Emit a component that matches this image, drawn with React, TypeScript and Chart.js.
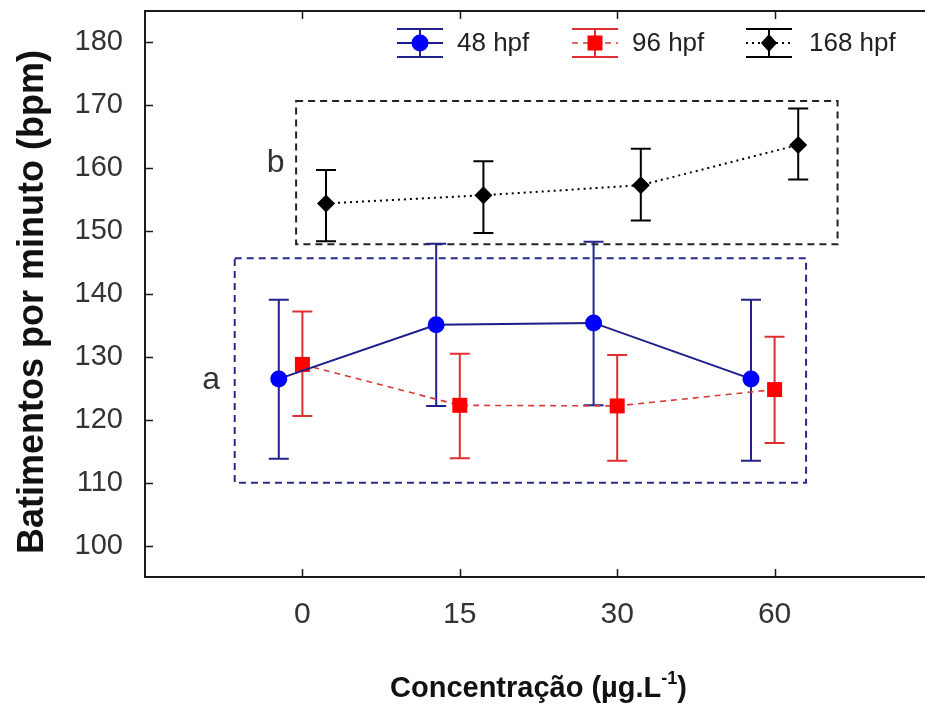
import React, { useEffect, useRef } from 'react';
import { Chart, registerables } from 'chart.js';

Chart.register(...registerables);

// ---- data ----
const categories = ['0', '15', '30', '60'];
const yTickValues = [100, 110, 120, 130, 140, 150, 160, 170, 180];
const seriesNames = ['48 hpf', '96 hpf', '168 hpf'];

const mean48 = [126.5, 135.1, 135.4, 126.5];
const low48 = [113.8, 122.2, 122.3, 113.5];
const high48 = [139.1, 148.0, 148.3, 139.1];

const mean96 = [128.8, 122.3, 122.2, 124.8];
const low96 = [120.6, 113.9, 113.5, 116.3];
const high96 = [137.2, 130.5, 130.3, 133.2];

const mean168 = [154.4, 155.7, 157.3, 163.7];
const low168 = [148.4, 149.7, 151.7, 158.2];
const high168 = [159.7, 161.1, 163.1, 169.5];

const groupOffsets = [-0.15, 0, 0.15];

// annotation groups (data units)
const groupLabels = ['a', 'b'];
const groupBoxX = [[-0.43, 3.2], [-0.04, 3.4]];
const groupBoxY = [[110, 145.7], [147.9, 170.7]];
const groupLabelX = [-0.58, -0.17];
const groupLabelY = [126.3, 160.8];

const FONT = '"Liberation Sans", Arial, sans-serif';

const styles = [
  { marker: '#0000ff', line: '#1c1c8a', bar: '#22228c', dash: [] as number[], lw: 2, shape: 'circle', r: 8.5 },
  { marker: '#ff0000', line: '#d83a3a', bar: '#dd3030', dash: [6, 5], lw: 1.6, shape: 'rect', r: 10.6 },
  { marker: '#000000', line: '#000000', bar: '#000000', dash: [2, 4], lw: 2, shape: 'rectRot', r: 9 },
];

const means = [mean48, mean96, mean168];
const lows = [low48, low96, low168];
const highs = [high48, high96, high168];

function drawMarker(ctx: CanvasRenderingContext2D, shape: string, x: number, y: number, r: number, color: string) {
  ctx.save();
  ctx.fillStyle = color;
  ctx.beginPath();
  if (shape === 'circle') {
    ctx.arc(x, y, r, 0, Math.PI * 2);
  } else if (shape === 'rect') {
    const s = r * Math.SQRT1_2;
    ctx.rect(x - s, y - s, 2 * s, 2 * s);
  } else {
    ctx.moveTo(x - r * 0.9, y);
    ctx.lineTo(x, y - r);
    ctx.lineTo(x + r * 0.9, y);
    ctx.lineTo(x, y + r);
    ctx.closePath();
  }
  ctx.fill();
  ctx.restore();
}

const decorPlugin = {
  id: 'decor',
  beforeDatasetsDraw(chart: any) {
    const ctx: CanvasRenderingContext2D = chart.ctx;
    const xs = chart.scales.x;
    const ys = chart.scales.y;
    const boxColors = ['#2a2a8a', '#222222'];
    ctx.save();
    ctx.lineWidth = 2;
    ctx.setLineDash([7, 5]);
    groupBoxX.forEach((bx, i) => {
      const x0 = xs.getPixelForValue(bx[0]);
      const x1 = xs.getPixelForValue(bx[1]);
      const y0 = ys.getPixelForValue(groupBoxY[i][1]);
      const y1 = ys.getPixelForValue(groupBoxY[i][0]);
      ctx.strokeStyle = boxColors[i];
      ctx.strokeRect(x0, y0, x1 - x0, y1 - y0);
    });
    ctx.restore();
    ctx.save();
    ctx.setLineDash([]);
    ctx.lineWidth = 2;
    means.forEach((m, s) => {
      ctx.strokeStyle = styles[s].bar;
      m.forEach((_, i) => {
        const x = xs.getPixelForValue(i + groupOffsets[s]);
        const yl = ys.getPixelForValue(lows[s][i]);
        const yh = ys.getPixelForValue(highs[s][i]);
        ctx.beginPath();
        ctx.moveTo(x, yl);
        ctx.lineTo(x, yh);
        ctx.moveTo(x - 10, yl);
        ctx.lineTo(x + 10, yl);
        ctx.moveTo(x - 10, yh);
        ctx.lineTo(x + 10, yh);
        ctx.stroke();
      });
    });
    ctx.restore();
  },
  afterDraw(chart: any) {
    const ctx: CanvasRenderingContext2D = chart.ctx;
    const xs = chart.scales.x;
    const ys = chart.scales.y;
    const a = chart.chartArea;
    ctx.save();
    ctx.strokeStyle = '#1a1a1a';
    ctx.lineWidth = 2;
    ctx.setLineDash([]);
    ctx.beginPath();
    ctx.moveTo(a.right + 5, a.top);
    ctx.lineTo(a.left, a.top);
    ctx.lineTo(a.left, a.bottom);
    ctx.lineTo(a.right + 5, a.bottom);
    ctx.stroke();
    ctx.lineWidth = 1.5;
    ctx.beginPath();
    yTickValues.forEach((v) => {
      const y = Math.round(ys.getPixelForValue(v)) + 0.5;
      ctx.moveTo(a.left, y);
      ctx.lineTo(a.left + 8, y);
    });
    categories.forEach((_, i) => {
      const x = Math.round(xs.getPixelForValue(i)) + 0.5;
      ctx.moveTo(x, a.bottom);
      ctx.lineTo(x, a.bottom - 8);
      ctx.moveTo(x, a.top);
      ctx.lineTo(x, a.top + 8);
    });
    ctx.stroke();

    ctx.fillStyle = '#333';
    ctx.font = `32px ${FONT}`;
    ctx.textAlign = 'center';
    ctx.textBaseline = 'middle';
    groupLabels.forEach((l, i) => {
      ctx.fillText(l, xs.getPixelForValue(groupLabelX[i]), ys.getPixelForValue(groupLabelY[i]));
    });

    const legendX = [420, 595, 769];
    const textX = [457, 632, 809];
    const ly = 43;
    seriesNames.forEach((name, s) => {
      const st = styles[s];
      const cx = legendX[s];
      ctx.save();
      ctx.strokeStyle = st.bar;
      ctx.lineWidth = 2;
      ctx.beginPath();
      ctx.moveTo(cx - 23, ly - 14);
      ctx.lineTo(cx + 23, ly - 14);
      ctx.moveTo(cx - 23, ly + 14);
      ctx.lineTo(cx + 23, ly + 14);
      ctx.moveTo(cx, ly - 14);
      ctx.lineTo(cx, ly + 14);
      ctx.stroke();
      ctx.strokeStyle = st.line;
      ctx.lineWidth = st.lw;
      ctx.setLineDash(st.dash);
      ctx.beginPath();
      ctx.moveTo(cx - 23, ly);
      ctx.lineTo(cx + 23, ly);
      ctx.stroke();
      ctx.restore();
      drawMarker(ctx, st.shape, cx, ly, st.r, st.marker);
      ctx.fillStyle = '#222';
      ctx.font = `26px ${FONT}`;
      ctx.textAlign = 'left';
      ctx.textBaseline = 'middle';
      ctx.fillText(name, textX[s], ly + 1);
    });

    ctx.fillStyle = '#111';
    ctx.font = `bold 36px ${FONT}`;
    ctx.save();
    ctx.translate(33, 302);
    ctx.rotate(-Math.PI / 2);
    ctx.textAlign = 'center';
    ctx.textBaseline = 'middle';
    ctx.fillText('Batimentos por minuto (bpm)', 0, 0);
    ctx.restore();

    const main = 'Concentração (µg.L';
    const sup = '-1';
    const close = ')';
    ctx.font = `bold 29px ${FONT}`;
    const wMain = ctx.measureText(main).width;
    const wClose = ctx.measureText(close).width;
    ctx.font = `bold 18px ${FONT}`;
    const wSup = ctx.measureText(sup).width;
    const total = wMain + wSup + wClose;
    const cx = (a.left + a.right) / 2;
    let x = cx - total / 2;
    const by = 697;
    ctx.textAlign = 'left';
    ctx.textBaseline = 'alphabetic';
    ctx.font = `bold 29px ${FONT}`;
    ctx.fillText(main, x, by);
    x += wMain;
    ctx.font = `bold 18px ${FONT}`;
    ctx.fillText(sup, x, by - 13);
    x += wSup;
    ctx.font = `bold 29px ${FONT}`;
    ctx.fillText(close, x, by);
    ctx.restore();
  },
};

export default function App() {
  const ref = useRef<HTMLCanvasElement | null>(null);
  useEffect(() => {
    if (!ref.current) return;
    const datasets = seriesNames.map((name, s) => ({
      label: name,
      data: means[s].map((v, i) => ({ x: i + groupOffsets[s], y: v })),
      showLine: true,
      borderColor: styles[s].line,
      borderWidth: styles[s].lw,
      borderDash: styles[s].dash,
      backgroundColor: styles[s].marker,
      pointBackgroundColor: styles[s].marker,
      pointBorderColor: styles[s].marker,
      pointBorderWidth: 0,
      pointStyle: styles[s].shape,
      pointRadius: styles[s].r,
      tension: 0,
    }));
    const chart = new Chart(ref.current, {
      type: 'scatter',
      data: { datasets },
      options: {
        animation: false,
        responsive: false,
        layout: { autoPadding: false, padding: { top: 11, left: 0, right: 0, bottom: 0 } },
        plugins: { legend: { display: false }, tooltip: { enabled: false } },
        scales: {
          x: {
            type: 'linear',
            min: -1,
            max: 4,
            grid: { display: false, drawTicks: false },
            border: { display: false },
            afterFit: (s: any) => { s.height = 127; s.paddingLeft = 0; s.paddingRight = 0; },
            afterBuildTicks: (s: any) => { s.ticks = categories.map((_, i) => ({ value: i })); },
            ticks: {
              autoSkip: false,
              maxRotation: 0,
              padding: 20,
              color: '#333',
              font: { size: 30, family: FONT },
              callback: (v: any) => categories[v as number] ?? '',
            },
          },
          y: {
            type: 'linear',
            min: 95,
            max: 185,
            grid: { display: false, drawTicks: false },
            border: { display: false },
            afterFit: (s: any) => { s.width = 145; s.paddingTop = 0; s.paddingBottom = 0; },
            afterBuildTicks: (s: any) => { s.ticks = yTickValues.map((v) => ({ value: v })); },
            ticks: {
              padding: 22,
              color: '#333',
              font: { size: 29, family: FONT },
            },
          },
        },
      } as any,
      plugins: [decorPlugin],
    });
    return () => chart.destroy();
  }, []);
  return (
    <div style={{ position: 'fixed', left: 0, top: 0, width: 932, height: 704, background: '#fff' }}>
      <canvas ref={ref} width={932} height={704} style={{ display: 'block' }} />
    </div>
  );
}
